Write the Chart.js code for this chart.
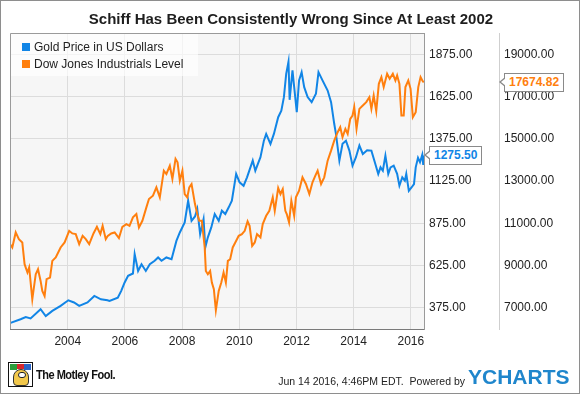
<!DOCTYPE html>
<html>
<head>
<meta charset="utf-8">
<script src="https://cdn.jsdelivr.net/npm/chart.js@4.4.1/dist/chart.umd.min.js"></script>
<style>
  html, body { margin: 0; padding: 0; background: #fff; }
  #wrap { position: relative; width: 580px; height: 394px; overflow: hidden; font-family: "Liberation Sans", Arial, sans-serif; }
  #chart { position: absolute; left: 0; top: 0; }
  #frame { position: absolute; left: 0; top: 0; width: 580px; height: 394px; box-sizing: border-box; border: 1px solid #8e8e8e; pointer-events: none; }
  #title { position: absolute; left: 1px; top: 9px; width: 580px; text-align: center; font-weight: bold; font-size: 15px; line-height: 19px; color: #1e1e1e; }
  #legend { position: absolute; left: 11px; top: 34px; width: 187px; height: 42px; background: rgba(255,255,255,0.65); }
  .lg { position: absolute; left: 11px; font-size: 12px; line-height: 14px; color: #222; white-space: nowrap; }
  .lg i { display: inline-block; width: 8px; height: 8px; margin-right: 4px; vertical-align: -0px; }
  .tag { position: absolute; height: 17px; line-height: 17px; padding: 0 4px; background: #fff; border: 1px solid #8a8a8a; font-weight: bold; font-size: 12px; white-space: nowrap; }
  .tag::before { content: ""; position: absolute; left: -6px; top: 3px; border-style: solid; border-width: 5.5px 6px 5.5px 0; border-color: transparent #8a8a8a transparent transparent; }
  .tag::after { content: ""; position: absolute; left: -4px; top: 4px; border-style: solid; border-width: 4.5px 5px 4.5px 0; border-color: transparent #fff transparent transparent; }
  #fool { position: absolute; left: 8px; top: 362px; width: 25px; height: 25px; box-sizing: border-box; border: 1px solid #111; background: #fff; overflow: hidden; }
  #fool .h1 { position: absolute; left: 1px; top: 1px; width: 7px; height: 6px; background: #2a9d3a; }
  #fool .h2 { position: absolute; left: 8px; top: 1px; width: 7px; height: 5px; background: #d8262b; }
  #fool .h3 { position: absolute; left: 15px; top: 1px; width: 7px; height: 6px; background: #2b64c6; }
  #fool .face { position: absolute; left: 4px; top: 6px; width: 16px; height: 17px; border-radius: 8px 8px 4px 4px; background: #f2c84b; border: 1px solid #333; box-sizing: border-box; }
  #fool .eye { position: absolute; left: 9px; top: 9px; width: 6px; height: 4px; background: #fff; border: 1px solid #222; border-radius: 3px; }
  #foolText { position: absolute; left: 36px; top: 367px; font-weight: bold; font-size: 13px; line-height: 15px; color: #111; letter-spacing: -0.6px; transform: scaleX(0.85); transform-origin: left center; white-space: nowrap; }
  #stamp { position: absolute; right: 115px; top: 374px; font-size: 10.5px; line-height: 14px; color: #222; white-space: nowrap; }
  #ych { position: absolute; left: 468px; top: 366px; font-weight: bold; font-size: 21px; line-height: 22px; color: #1f86cc; white-space: nowrap; }
</style>
</head>
<body>
<div id="wrap">
  <canvas id="chart" width="580" height="394"></canvas>
  <div id="title">Schiff Has Been Consistently Wrong Since At Least 2002</div>
  <div id="legend">
    <div class="lg" style="top:6px"><i style="background:#1185e6"></i>Gold Price in US Dollars</div>
    <div class="lg" style="top:23px"><i style="background:#ff7f0e"></i>Dow Jones Industrials Level</div>
  </div>
  <div id="goldTag" class="tag" style="color:#1185e6">1275.50</div>
  <div id="dowTag" class="tag" style="color:#ff7f0e">17674.82</div>
  <div id="fool"><div class="h1"></div><div class="h2"></div><div class="h3"></div><div class="face"></div><div class="eye"></div></div>
  <div id="foolText">The Motley Fool.</div>
  <div id="stamp">Jun 14 2016, 4:46PM EDT.&nbsp; Powered by</div>
  <div id="ych">YCHARTS</div>
  <div id="frame"></div>
</div>
<script>
// values (x = decimal year)
const GOLD_YEARS = [2002.00, 2002.35, 2002.53, 2002.70, 2003.05, 2003.23, 2003.46, 2003.75, 2004.02, 2004.22,
  2004.40, 2004.69, 2004.93, 2005.16, 2005.39, 2005.46, 2005.75, 2005.87, 2005.99, 2006.11,
  2006.28, 2006.34, 2006.46, 2006.58, 2006.73, 2006.87, 2007.04, 2007.16, 2007.28, 2007.45,
  2007.63, 2007.80, 2007.92, 2008.09, 2008.21, 2008.33, 2008.45, 2008.53, 2008.63, 2008.75,
  2008.81, 2008.90, 2009.02, 2009.14, 2009.28, 2009.39, 2009.51, 2009.63, 2009.74, 2009.89,
  2010.01, 2010.15, 2010.27, 2010.47, 2010.56, 2010.74, 2010.86, 2010.94, 2011.09, 2011.21,
  2011.36, 2011.47, 2011.56, 2011.64, 2011.72, 2011.76, 2011.86, 2011.92, 2012.01, 2012.09,
  2012.18, 2012.27, 2012.39, 2012.53, 2012.68, 2012.77, 2012.91, 2013.09, 2013.21, 2013.32,
  2013.38, 2013.50, 2013.61, 2013.73, 2013.85, 2013.96, 2014.08, 2014.20, 2014.32, 2014.47,
  2014.62, 2014.74, 2014.86, 2014.94, 2015.02, 2015.11, 2015.21, 2015.29, 2015.40, 2015.52,
  2015.60, 2015.70, 2015.79, 2015.84, 2015.93, 2016.03, 2016.11, 2016.17, 2016.25, 2016.32,
  2016.40, 2016.43, 2016.45];
const GOLD = [284, 306, 319, 311, 365, 325, 355, 385, 418, 405,
  385, 405, 444, 424, 418, 414, 434, 474, 524, 563,
  577, 692, 592, 632, 592, 632, 652, 672, 652, 672,
  662, 770, 820, 880, 1008, 889, 915, 960, 810, 899,
  731, 791, 850, 929, 889, 949, 929, 969, 1008, 1167,
  1117, 1097, 1147, 1246, 1186, 1266, 1364, 1404, 1345, 1404,
  1503, 1542, 1622, 1760, 1832, 1606, 1780, 1681, 1533, 1721,
  1770, 1681, 1622, 1592, 1642, 1770, 1721, 1661, 1592, 1464,
  1404, 1246, 1345, 1364, 1305, 1216, 1266, 1335, 1285, 1307,
  1305, 1236, 1167, 1206, 1186, 1275, 1167, 1206, 1216, 1167,
  1097, 1147, 1127, 1167, 1067, 1088, 1107, 1206, 1262, 1236,
  1281, 1225, 1275.50];

const DOW_YEARS = [2002.00, 2002.06, 2002.18, 2002.29, 2002.41, 2002.49, 2002.59, 2002.65, 2002.76, 2002.88,
  2002.96, 2003.05, 2003.11, 2003.19, 2003.26, 2003.38, 2003.46, 2003.58, 2003.75, 2003.89,
  2004.05, 2004.16, 2004.28, 2004.40, 2004.52, 2004.63, 2004.75, 2004.90, 2005.02, 2005.14,
  2005.22, 2005.33, 2005.40, 2005.52, 2005.64, 2005.79, 2005.91, 2006.05, 2006.16, 2006.28,
  2006.40, 2006.49, 2006.61, 2006.75, 2006.84, 2006.98, 2007.10, 2007.22, 2007.36, 2007.45,
  2007.57, 2007.66, 2007.77, 2007.84, 2007.92, 2008.01, 2008.09, 2008.18, 2008.25, 2008.33,
  2008.45, 2008.53, 2008.60, 2008.69, 2008.79, 2008.83, 2008.90, 2008.98, 2009.04, 2009.11,
  2009.18, 2009.28, 2009.37, 2009.45, 2009.53, 2009.60, 2009.68, 2009.77, 2009.86, 2009.98,
  2010.09, 2010.19, 2010.29, 2010.36, 2010.45, 2010.54, 2010.62, 2010.74, 2010.82, 2010.94,
  2011.05, 2011.17, 2011.24, 2011.36, 2011.44, 2011.52, 2011.61, 2011.66, 2011.74, 2011.82,
  2011.92, 2011.98, 2012.09, 2012.21, 2012.33, 2012.45, 2012.56, 2012.66, 2012.74, 2012.86,
  2012.97, 2013.09, 2013.21, 2013.32, 2013.44, 2013.53, 2013.61, 2013.71, 2013.79, 2013.88,
  2013.96, 2014.02, 2014.10, 2014.20, 2014.32, 2014.44, 2014.55, 2014.62, 2014.70, 2014.79,
  2014.88, 2014.97, 2015.05, 2015.17, 2015.26, 2015.37, 2015.46, 2015.52, 2015.60, 2015.67,
  2015.75, 2015.81, 2015.91, 2015.99, 2016.07, 2016.17, 2016.26, 2016.34, 2016.40, 2016.45];
const DOW = [9973, 9850, 10562, 10244, 10087, 9056, 8662, 8899, 7393, 8581,
  8819, 8263, 7788, 7550, 8344, 8424, 9213, 9374, 9850, 10087,
  10638, 10515, 10482, 10006, 10401, 10244, 10006, 10515, 10828, 10482,
  10876, 10244, 10401, 10515, 10562, 10291, 10828, 10957, 10876, 11275,
  11432, 10800, 11113, 11750, 12144, 12301, 12700, 12225, 13489, 13332,
  13726, 13095, 14045, 13888, 13014, 13489, 12382, 12225, 12700, 12857,
  11907, 11432, 11113, 11113, 9850, 8738, 8581, 8738, 8187, 7868,
  6871, 7788, 8187, 8662, 8187, 9213, 9294, 9850, 10087, 10401,
  10482, 10638, 11085, 10876, 9926, 10087, 10482, 10325, 10957, 11351,
  11588, 12225, 11588, 12667, 12382, 12619, 11588, 11432, 11037, 12064,
  11351, 12225, 12539, 13175, 12857, 12382, 12938, 13251, 13489, 12857,
  13175, 13964, 14439, 14914, 15313, 15551, 15076, 15470, 15232, 15945,
  16102, 16501, 15470, 16420, 16577, 16739, 16976, 16420, 17052, 16310,
  17608, 17926, 17451, 18083, 17846, 18083, 17765, 18002, 17608, 16102,
  16102, 17451, 17765, 17370, 16026, 16263, 17451, 17926, 17765, 17674.82];

const YEAR_TICKS = [2004, 2006, 2008, 2010, 2012, 2014, 2016];
const GOLD_TICKS = [375, 625, 875, 1125, 1375, 1625, 1875];
const DOW_TICKS = [7000, 9000, 11000, 13000, 15000, 17000, 19000];
const GOLD_LAST = 1275.50;
const DOW_LAST = 17674.82;

const BLUE = "#1185e6";
const ORANGE = "#ff7f0e";
const FONT = "'Liberation Sans', Arial, sans-serif";

const toPoints = (xs, ys) => xs.map((x, i) => ({ x, y: ys[i] }));

const plotFrame = {
  id: "plotFrame",
  beforeDraw(chart) {
    const { ctx, chartArea: a } = chart;
    ctx.save();
    ctx.fillStyle = "#f6f6f6";
    ctx.fillRect(a.left, a.top, a.right - a.left, a.bottom - a.top);
    ctx.restore();
  },
  afterDraw(chart) {
    const { ctx, chartArea: a, scales } = chart;
    ctx.save();
    ctx.strokeStyle = "#9a9a9a";
    ctx.lineWidth = 1;
    ctx.beginPath();
    ctx.moveTo(a.left + 0.5, a.bottom);
    ctx.lineTo(a.left + 0.5, a.top + 0.5);
    ctx.lineTo(a.right, a.top + 0.5);
    ctx.stroke();
    ctx.restore();

    const gold = document.getElementById("goldTag");
    const dow = document.getElementById("dowTag");
    gold.style.left = (scales.y.left + 5) + "px";
    gold.style.top = Math.round(scales.y.getPixelForValue(GOLD_LAST) - 9.5) + "px";
    dow.style.left = (scales.y2.left + 5) + "px";
    dow.style.top = Math.round(scales.y2.getPixelForValue(DOW_LAST) - 9.5) + "px";
  },
};

const tickFont = { family: FONT, size: 12 };

new Chart(document.getElementById("chart"), {
  type: "line",
  data: {
    datasets: [
      {
        label: "Dow Jones Industrials Level",
        data: toPoints(DOW_YEARS, DOW),
        yAxisID: "y2",
        borderColor: ORANGE,
        borderWidth: 2,
        pointRadius: 0,
        tension: 0,
        order: 0,
      },
      {
        label: "Gold Price in US Dollars",
        data: toPoints(GOLD_YEARS, GOLD),
        yAxisID: "y",
        borderColor: BLUE,
        borderWidth: 2,
        pointRadius: 0,
        tension: 0,
        order: 1,
      },
    ],
  },
  options: {
    responsive: false,
    animation: false,
    layout: { padding: { top: 33, left: 10, right: 0, bottom: 0 } },
    plugins: { legend: { display: false }, tooltip: { enabled: false } },
    scales: {
      x: {
        type: "linear",
        min: 2001.98,
        max: 2016.46,
        afterBuildTicks: s => { s.ticks = YEAR_TICKS.map(v => ({ value: v })); },
        afterFit: s => { s.height = 65; },
        grid: { color: "#dcdcdc", drawTicks: false },
        border: { display: true, color: "#7a7a7a" },
        ticks: { padding: 5, color: "#222", font: tickFont, maxRotation: 0, autoSkip: false, callback: v => String(v) },
      },
      y: {
        position: "right",
        min: 248,
        max: 2002,
        afterBuildTicks: s => { s.ticks = GOLD_TICKS.map(v => ({ value: v })); },
        afterFit: s => { s.width = 75; },
        grid: { color: "#dcdcdc", drawTicks: false },
        border: { display: true, color: "#9a9a9a" },
        ticks: { padding: 5, color: "#222", font: tickFont, callback: v => Number(v).toFixed(2) },
      },
      y2: {
        position: "right",
        min: 5984,
        max: 20016,
        afterBuildTicks: s => { s.ticks = DOW_TICKS.map(v => ({ value: v })); },
        afterFit: s => { s.width = 81; },
        grid: { display: false, drawTicks: false },
        border: { display: true, color: "#cfcfcf" },
        ticks: { padding: 5, color: "#222", font: tickFont, callback: v => Number(v).toFixed(2) },
      },
    },
  },
  plugins: [plotFrame],
});
</script>
</body>
</html>
